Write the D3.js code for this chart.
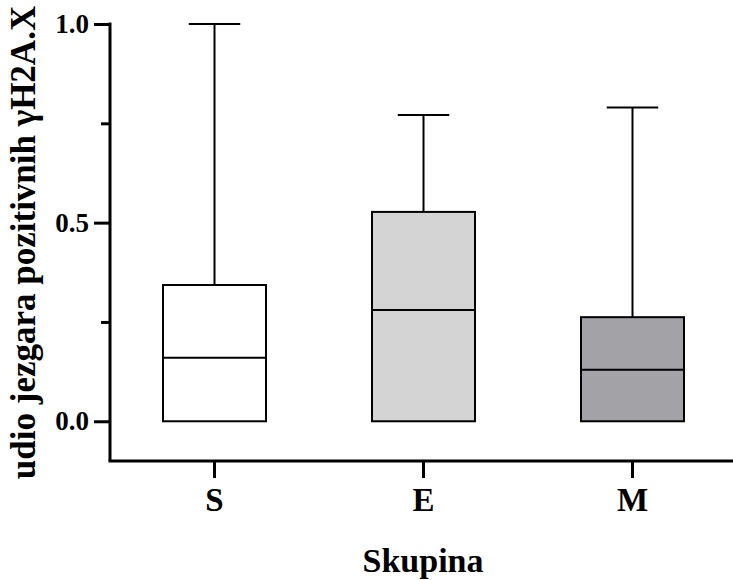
<!DOCTYPE html>
<html>
<head>
<meta charset="utf-8">
<script src="https://cdn.jsdelivr.net/npm/d3@7"></script>
<style>
  body { margin: 0; background: #fff; }
  svg text { font-family: 'Liberation Serif', 'Times New Roman', serif; font-weight: bold; }
</style>
</head>
<body>
<div id="chart"></div>
<script>
var groups = ['S', 'E', 'M'];
var mins = [0, 0, 0];
var q1s = [0, 0, 0];
var medians = [0.16, 0.28, 0.13];
var q3s = [0.343, 0.527, 0.262];
var maxs = [1.0, 0.771, 0.79];
var fills = ['#ffffff', '#d4d4d4', '#a3a2a7'];
var majorTicks = [0, 0.5, 1.0];
var minorTicks = [0.25, 0.75];

var width = 733;
var height = 580;

var svg = d3.select('#chart')
  .append('svg')
    .attr('width', width)
    .attr('height', height);

var yScale = d3.scaleLinear()
  .domain([-0.1, 1.0])
  .range([461, 24]);

var xScale = d3.scaleBand()
  .domain(groups)
  .range([110, 737])
  .padding(0);

var boxW = 103;

var data = groups.map((g, i) => ({
  group: g, min: mins[i], q1: q1s[i], median: medians[i], q3: q3s[i], max: maxs[i], fill: fills[i]
}));

// y axis, major + minor ticks
var yAxis = svg.append('g')
  .attr('transform', 'translate(110, 0)')
  .call(d3.axisLeft(yScale).tickValues(majorTicks).tickFormat(d3.format('.1f')).tickSize(16).tickPadding(5).tickSizeOuter(0));
yAxis.append('g')
  .call(d3.axisLeft(yScale).tickValues(minorTicks).tickFormat('').tickSize(9).tickSizeOuter(0))
  .select('.domain').remove();
yAxis.selectAll('line').attr('stroke', '#000').attr('stroke-width', 3);
yAxis.select('.domain').attr('d', `M0,${yScale(1.0) - 1.5}V${yScale(-0.1)}`).attr('stroke', '#000').attr('stroke-width', 3);
yAxis.selectAll('text').attr('font-size', 27).attr('fill', '#000');

// x axis
var xAxis = svg.append('g')
  .attr('transform', 'translate(0, 461)')
  .call(d3.axisBottom(xScale).tickSize(17).tickPadding(10).tickSizeOuter(0));
xAxis.select('.domain').attr('d', 'M108.5,0H733').attr('stroke', '#000').attr('stroke-width', 3);
xAxis.selectAll('line').attr('stroke', '#000').attr('stroke-width', 3);
xAxis.selectAll('text').attr('font-size', 33).attr('fill', '#000');

// boxes
var box = svg.selectAll('.box')
  .data(data)
  .enter()
  .append('g')
    .attr('class', 'box')
    .attr('transform', d => `translate(${xScale(d.group) + xScale.bandwidth() / 2}, 0)`);

box.append('line')
  .attr('x1', 0).attr('x2', 0)
  .attr('y1', d => yScale(d.q3))
  .attr('y2', d => yScale(d.max))
  .attr('stroke', '#000').attr('stroke-width', 2);
box.append('line')
  .attr('x1', -boxW / 4).attr('x2', boxW / 4)
  .attr('y1', d => yScale(d.max))
  .attr('y2', d => yScale(d.max))
  .attr('stroke', '#000').attr('stroke-width', 2);
box.append('line')
  .attr('x1', 0).attr('x2', 0)
  .attr('y1', d => yScale(d.q1))
  .attr('y2', d => yScale(d.min))
  .attr('stroke', '#000').attr('stroke-width', 2);
box.append('rect')
  .attr('x', -boxW / 2)
  .attr('width', boxW)
  .attr('y', d => yScale(d.q3))
  .attr('height', d => yScale(d.q1) - yScale(d.q3))
  .attr('fill', d => d.fill)
  .attr('stroke', '#000').attr('stroke-width', 2);
box.append('line')
  .attr('x1', -boxW / 2).attr('x2', boxW / 2)
  .attr('y1', d => yScale(d.median))
  .attr('y2', d => yScale(d.median))
  .attr('stroke', '#000').attr('stroke-width', 2);

// axis titles
svg.append('text')
  .attr('transform', `translate(35, ${(yScale(1.0) + yScale(-0.1)) / 2}) rotate(-90)`)
  .attr('text-anchor', 'middle')
  .attr('font-size', 35)
  .text('udio jezgara pozitivnih γH2A.X');

svg.append('text')
  .attr('x', 423)
  .attr('y', 572)
  .attr('text-anchor', 'middle')
  .attr('font-size', 34)
  .text('Skupina');
</script>
</body>
</html>
